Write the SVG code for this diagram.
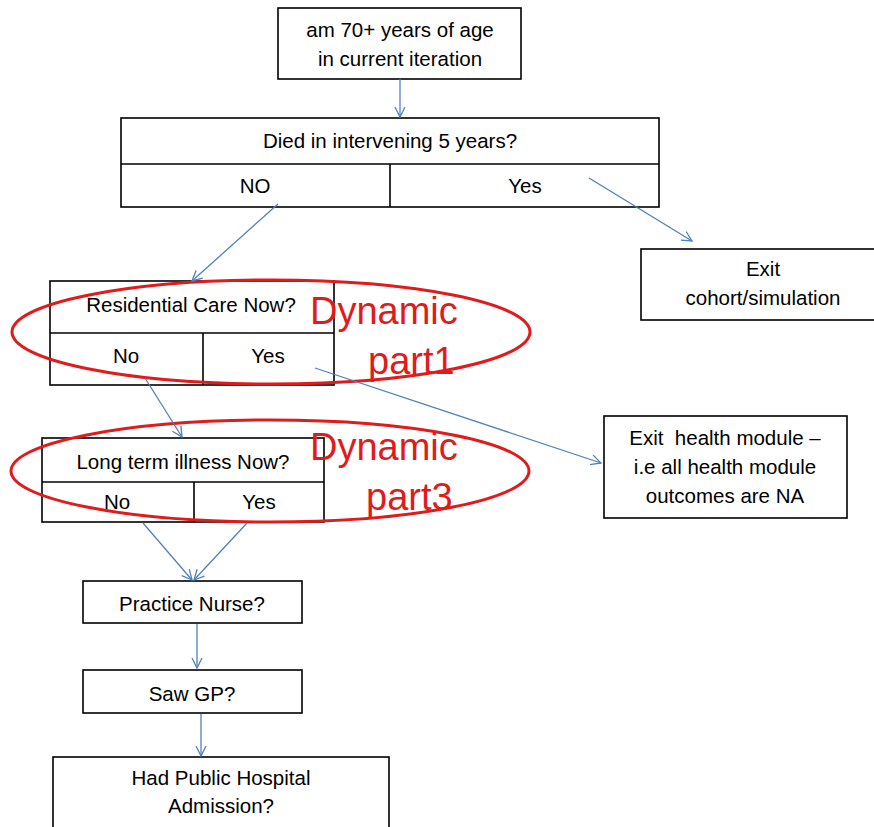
<svg xmlns="http://www.w3.org/2000/svg" width="874" height="827" viewBox="0 0 874 827">
<style>
.box{fill:#fff;stroke:#000;stroke-width:1.6}
.ln{stroke:#000;stroke-width:1.6;fill:none}
.t{font-family:"Liberation Sans",Arial,sans-serif;font-size:20.5px;fill:#000;text-anchor:middle}
.c{stroke:#4f81bd;stroke-width:1.3;fill:none;marker-end:url(#ah)}
.ell{fill:none;stroke:#e01b1b;stroke-width:3}
.red{font-family:"Liberation Sans",Arial,sans-serif;font-size:38px;fill:#e01b1b}
</style>
<defs>
<marker id="ah" viewBox="0 0 12 12" refX="11" refY="6" markerWidth="12" markerHeight="12" markerUnits="userSpaceOnUse" orient="auto">
<path d="M1,1 L11,6 L1,11" fill="none" stroke="#4f81bd" stroke-width="1.3"/>
</marker>
</defs>
<rect width="874" height="827" fill="#fff"/>
<g id="start">
<rect class="box" x="278" y="8" width="243" height="71"/>
<text class="t" x="400" y="37">am 70+ years of age</text>
<text class="t" x="400" y="66">in current iteration</text>
</g>
<g id="died">
<rect class="box" x="121" y="118" width="538" height="89"/>
<line class="ln" x1="121" y1="164" x2="659" y2="164"/>
<line class="ln" x1="390" y1="164" x2="390" y2="207"/>
<text class="t" x="390" y="148">Died in intervening 5 years?</text>
<text class="t" x="255" y="193">NO</text>
<text class="t" x="525" y="193">Yes</text>
</g>
<g id="exit-cohort">
<rect class="box" x="641" y="249" width="240" height="71"/>
<text class="t" x="763" y="276">Exit</text>
<text class="t" x="763" y="305">cohort/simulation</text>
</g>
<g id="residential">
<rect class="box" x="50" y="281" width="284" height="104"/>
<line class="ln" x1="50" y1="333" x2="334" y2="333"/>
<line class="ln" x1="203" y1="333" x2="203" y2="385"/>
<text class="t" x="191" y="312">Residential Care Now?</text>
<text class="t" x="126" y="363">No</text>
<text class="t" x="268" y="363">Yes</text>
</g>
<g id="exit-health">
<rect class="box" x="604" y="416" width="243" height="102"/>
<text class="t" x="725" y="445" xml:space="preserve">Exit  health module –</text>
<text class="t" x="725" y="474">i.e all health module</text>
<text class="t" x="725" y="503">outcomes are NA</text>
</g>
<g id="longterm">
<rect class="box" x="42" y="438" width="282" height="84"/>
<line class="ln" x1="42" y1="482" x2="324" y2="482"/>
<line class="ln" x1="194" y1="482" x2="194" y2="522"/>
<text class="t" x="183" y="469">Long term illness Now?</text>
<text class="t" x="117" y="509">No</text>
<text class="t" x="259" y="509">Yes</text>
</g>
<g id="nurse">
<rect class="box" x="83" y="581" width="219" height="42"/>
<text class="t" x="192" y="611">Practice Nurse?</text>
</g>
<g id="gp">
<rect class="box" x="83" y="670" width="219" height="43"/>
<text class="t" x="192" y="701">Saw GP?</text>
</g>
<g id="hospital">
<rect class="box" x="53" y="757" width="336" height="80"/>
<text class="t" x="221" y="785">Had Public Hospital</text>
<text class="t" x="221" y="813">Admission?</text>
</g>
<g id="dynamic1">
<ellipse class="ell" cx="271" cy="332" rx="259" ry="52"/>
<text class="red" x="310" y="324">Dynamic</text>
<text class="red" x="368" y="374">part1</text>
</g>
<g id="dynamic3">
<ellipse class="ell" cx="270" cy="471" rx="259" ry="51"/>
<text class="red" x="310" y="460">Dynamic</text>
<text class="red" x="366" y="510">part3</text>
</g>
<g id="connectors">
<line class="c" x1="400" y1="79" x2="400" y2="117"/>
<line class="c" x1="278" y1="204" x2="192" y2="281"/>
<line class="c" x1="589" y1="178" x2="692" y2="241"/>
<line class="c" x1="145" y1="378" x2="182" y2="437"/>
<line class="c" x1="315" y1="368" x2="601" y2="463"/>
<line class="c" x1="143" y1="523" x2="192" y2="580"/>
<line class="c" x1="247" y1="523" x2="194" y2="580"/>
<line class="c" x1="197" y1="624" x2="197" y2="668"/>
<line class="c" x1="201" y1="714" x2="201" y2="756"/>
</g>
</svg>
